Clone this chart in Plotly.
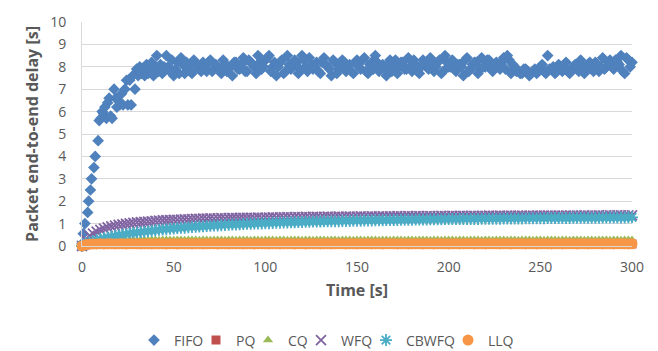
import plotly.graph_objects as go

# ---------------- data ----------------
fifo_t = [0, 0.7, 1.6, 3.1, 3.6, 4.6, 5.2, 6.5, 7.2, 8.8, 9.4, 10.4, 11.0, 11.8, 12.5, 13.3, 14.0, 14.8,
          15.6, 16.4, 17.5, 18.4, 19.0, 19.8, 20.6, 21.6, 22.4, 23.4, 24.3, 25.0, 26.0, 26.8, 27.6, 28.9,
          29.8, 30.6, 31.5, 32.4, 33.3, 34.2, 35.2, 36.1, 37.0, 38.0, 39.0, 40.0, 40.8, 41.8, 42.8, 43.8,
          44.8] + list(range(46, 301, 2)) + list(range(47, 300, 2))
fifo_v = [0.1, 0.55, 1.0, 1.5, 2.0, 2.5, 3.0, 3.5, 4.0, 4.7, 5.6, 5.7, 6.0, 5.9, 6.2, 5.7, 6.4, 6.6,
          5.8, 5.7, 7.0, 6.6, 6.2, 6.5, 6.3, 6.8, 6.3, 7.0, 7.4, 6.3, 7.4, 6.3, 7.6, 7.0,
          7.9, 7.6, 8.0, 7.7, 7.8, 7.6, 8.1, 7.7, 7.9, 8.2, 7.6, 8.0, 8.5, 7.8, 8.1, 7.7,
          8.0,
          # even seconds 46 .. 300
          8.5, 7.8, 7.6, 8.2, 8.4, 7.7, 8.0, 7.7, 8.1, 7.9,
          8.2, 7.8, 8.3, 7.9, 8.0, 7.7, 8.1, 8.0, 7.6, 8.2,
          7.9, 8.4, 7.8, 8.2, 8.0, 8.5, 7.9, 8.3, 8.5, 8.0,
          7.6, 8.2, 7.7, 8.5, 7.9, 8.3, 7.7, 8.5, 8.0, 8.4,
          7.9, 8.2, 7.7, 8.4, 8.0, 7.6, 8.2, 7.9, 8.3, 7.8,
          8.1, 7.7, 8.3, 7.9, 8.4, 7.7, 8.2, 8.5, 7.8, 8.1,
          7.6, 8.3, 8.0, 7.7, 8.2, 7.9, 8.4, 7.8, 8.1, 7.7,
          8.3, 8.0, 8.4, 7.8, 8.2, 7.7, 8.5, 8.0, 8.3, 7.8,
          8.1, 7.6, 8.4, 7.9, 8.2, 7.7, 8.4, 8.0, 8.3, 7.8,
          8.2, 7.9, 8.4, 8.5, 7.7, 8.0, 7.8, 7.7, 7.9, 7.6,
          7.8, 7.7, 8.0, 7.8, 8.5, 7.9, 7.7, 8.1, 7.8, 8.2,
          7.7, 8.0, 7.9, 8.3, 7.7, 8.1, 7.9, 8.2, 7.8, 8.4,
          8.0, 8.3, 7.9, 8.2, 8.5, 7.7, 8.3, 8.2,
          # odd seconds 47 .. 299
          8.0, 8.3, 7.9, 7.7, 8.1, 8.2, 7.8, 8.3, 8.0, 7.8,
          8.0, 8.2, 7.8, 8.1, 7.9, 8.3, 7.8, 8.0, 8.2, 7.9,
          8.1, 7.8, 8.3, 8.1, 7.7, 8.2, 8.0, 8.4, 7.8, 8.2,
          8.0, 8.3, 7.8, 8.1, 8.0, 8.2, 7.9, 8.3, 7.8, 8.1,
          8.0, 7.8, 8.2, 8.1, 7.9, 8.3, 7.7, 8.0, 8.2, 8.0,
          7.8, 8.2, 8.0, 8.3, 7.8, 8.1, 7.9, 8.2, 8.0, 7.9,
          8.1, 7.8, 8.3, 8.0, 8.2, 7.9, 8.0, 8.3, 7.8, 8.0,
          8.2, 7.9, 8.1, 8.0, 8.3, 7.8, 8.2, 8.0, 7.9, 8.1,
          8.0, 8.3, 7.8, 8.1, 8.2, 7.9, 8.0, 8.3, 7.9, 8.1,
          8.0, 8.2, 7.9, 8.3, 8.1, 7.8, 7.7, 7.9, 7.8, 7.7,
          7.9, 7.8, 8.1, 7.7, 7.9, 8.0, 7.8, 7.9, 8.0, 7.8,
          7.9, 8.1, 7.8, 8.0, 7.9, 8.2, 7.8, 8.1, 8.0, 7.9,
          8.2, 8.0, 8.3, 8.1, 7.8, 8.4, 8.0]

t2 = list(range(0, 301, 2))  # sampling instants of the queueing series

pq_v = [0.00, 0.05, 0.07, 0.08, 0.08, 0.09, 0.08, 0.09, 0.08, 0.09,
        0.09, 0.08, 0.09, 0.09, 0.08, 0.09, 0.09, 0.08, 0.09, 0.09,
        0.08, 0.09, 0.09, 0.08, 0.09, 0.09, 0.09, 0.08, 0.09, 0.09,
        0.09, 0.08, 0.09, 0.09, 0.08, 0.09, 0.09, 0.09, 0.08, 0.09,
        0.09, 0.09, 0.08, 0.09, 0.09, 0.08, 0.09, 0.09, 0.09, 0.08,
        0.09, 0.09, 0.08, 0.09, 0.09, 0.09, 0.08, 0.09, 0.09, 0.08,
        0.09, 0.09, 0.09, 0.08, 0.09, 0.09, 0.08, 0.09, 0.09, 0.09,
        0.08, 0.09, 0.09, 0.08, 0.09, 0.09, 0.09, 0.08, 0.09, 0.09,
        0.08, 0.09, 0.09, 0.09, 0.08, 0.09, 0.09, 0.08, 0.09, 0.09,
        0.09, 0.08, 0.09, 0.09, 0.08, 0.09, 0.09, 0.09, 0.08, 0.09,
        0.09, 0.08, 0.09, 0.09, 0.09, 0.08, 0.09, 0.09, 0.08, 0.09,
        0.09, 0.09, 0.08, 0.09, 0.09, 0.08, 0.09, 0.09, 0.09, 0.08,
        0.09, 0.09, 0.08, 0.09, 0.09, 0.09, 0.08, 0.09, 0.09, 0.08,
        0.09, 0.09, 0.09, 0.08, 0.09, 0.09, 0.08, 0.09, 0.09, 0.09,
        0.08, 0.09, 0.09, 0.08, 0.09, 0.09, 0.09, 0.08, 0.09, 0.09,
        0.09]

cq_v = [0.00, 0.12, 0.18, 0.21, 0.23, 0.24, 0.25, 0.25, 0.26, 0.26,
        0.26, 0.27, 0.26, 0.27, 0.27, 0.26, 0.27, 0.27, 0.26, 0.27,
        0.27, 0.26, 0.27, 0.27, 0.27, 0.26, 0.27, 0.27, 0.26, 0.27,
        0.27, 0.27, 0.26, 0.27, 0.27, 0.26, 0.27, 0.27, 0.27, 0.26,
        0.27, 0.27, 0.26, 0.27, 0.27, 0.27, 0.26, 0.27, 0.27, 0.26,
        0.27, 0.27, 0.27, 0.26, 0.27, 0.27, 0.26, 0.27, 0.27, 0.27,
        0.26, 0.27, 0.27, 0.26, 0.27, 0.27, 0.27, 0.26, 0.27, 0.27,
        0.26, 0.27, 0.27, 0.27, 0.26, 0.27, 0.27, 0.26, 0.27, 0.27,
        0.27, 0.26, 0.27, 0.27, 0.26, 0.27, 0.27, 0.27, 0.26, 0.27,
        0.27, 0.26, 0.27, 0.27, 0.27, 0.26, 0.27, 0.27, 0.26, 0.27,
        0.27, 0.27, 0.26, 0.27, 0.27, 0.26, 0.27, 0.27, 0.27, 0.26,
        0.27, 0.27, 0.26, 0.27, 0.27, 0.27, 0.26, 0.27, 0.27, 0.26,
        0.27, 0.27, 0.27, 0.26, 0.27, 0.27, 0.26, 0.27, 0.27, 0.27,
        0.26, 0.27, 0.27, 0.26, 0.27, 0.27, 0.27, 0.26, 0.27, 0.27,
        0.26, 0.27, 0.27, 0.27, 0.26, 0.27, 0.27, 0.26, 0.27, 0.27,
        0.27]

wfq_v = [0.00, 0.30, 0.45, 0.55, 0.64, 0.72, 0.78, 0.83, 0.88, 0.91,
         0.94, 0.97, 0.99, 1.01, 1.03, 1.05, 1.06, 1.08, 1.09, 1.10,
         1.12, 1.13, 1.14, 1.15, 1.16, 1.17, 1.17, 1.18, 1.19, 1.19,
         1.20, 1.21, 1.21, 1.22, 1.22, 1.23, 1.22, 1.23, 1.24, 1.23,
         1.24, 1.25, 1.24, 1.25, 1.26, 1.25, 1.26, 1.26, 1.27, 1.26,
         1.27, 1.27, 1.28, 1.27, 1.28, 1.28, 1.29, 1.28, 1.29, 1.29,
         1.29, 1.30, 1.29, 1.30, 1.30, 1.29, 1.30, 1.31, 1.30, 1.30,
         1.31, 1.30, 1.31, 1.31, 1.30, 1.31, 1.32, 1.31, 1.31, 1.32,
         1.31, 1.32, 1.32, 1.31, 1.32, 1.32, 1.33, 1.32, 1.32, 1.33,
         1.32, 1.33, 1.33, 1.32, 1.33, 1.33, 1.32, 1.33, 1.34, 1.33,
         1.33, 1.34, 1.33, 1.34, 1.34, 1.33, 1.34, 1.34, 1.33, 1.34,
         1.34, 1.35, 1.34, 1.34, 1.35, 1.34, 1.35, 1.35, 1.34, 1.35,
         1.35, 1.34, 1.35, 1.35, 1.36, 1.35, 1.35, 1.36, 1.35, 1.35,
         1.36, 1.35, 1.36, 1.36, 1.35, 1.36, 1.36, 1.37, 1.36, 1.36,
         1.36, 1.37, 1.36, 1.37, 1.37, 1.36, 1.37, 1.37, 1.36, 1.37,
         1.37]

cbwfq_v = [0.00, 0.10, 0.17, 0.22, 0.27, 0.31, 0.35, 0.38, 0.42, 0.45,
           0.48, 0.51, 0.53, 0.56, 0.58, 0.60, 0.62, 0.64, 0.66, 0.68,
           0.70, 0.72, 0.74, 0.75, 0.77, 0.78, 0.80, 0.81, 0.82, 0.84,
           0.85, 0.86, 0.87, 0.88, 0.89, 0.90, 0.91, 0.92, 0.93, 0.94,
           0.95, 0.96, 0.96, 0.97, 0.98, 0.99, 0.99, 1.00, 1.01, 1.01,
           1.02, 1.02, 1.03, 1.04, 1.04, 1.05, 1.05, 1.06, 1.06, 1.07,
           1.07, 1.08, 1.08, 1.09, 1.09, 1.09, 1.10, 1.10, 1.11, 1.11,
           1.11, 1.12, 1.12, 1.12, 1.13, 1.13, 1.13, 1.14, 1.14, 1.14,
           1.15, 1.15, 1.15, 1.16, 1.16, 1.16, 1.16, 1.17, 1.17, 1.17,
           1.17, 1.18, 1.18, 1.18, 1.18, 1.19, 1.19, 1.19, 1.19, 1.20,
           1.20, 1.20, 1.20, 1.20, 1.21, 1.21, 1.21, 1.21, 1.21, 1.22,
           1.22, 1.22, 1.22, 1.22, 1.22, 1.23, 1.23, 1.23, 1.23, 1.23,
           1.23, 1.24, 1.24, 1.24, 1.24, 1.24, 1.24, 1.25, 1.25, 1.25,
           1.25, 1.25, 1.25, 1.25, 1.26, 1.26, 1.26, 1.26, 1.26, 1.26,
           1.26, 1.26, 1.27, 1.27, 1.27, 1.27, 1.27, 1.27, 1.27, 1.28,
           1.28]

llq_v = [0.00, 0.06, 0.08, 0.09, 0.09, 0.10, 0.09, 0.10, 0.10, 0.09,
         0.10, 0.10, 0.09, 0.10, 0.10, 0.10, 0.09, 0.10, 0.10, 0.09,
         0.10, 0.10, 0.10, 0.09, 0.10, 0.10, 0.09, 0.10, 0.10, 0.10,
         0.09, 0.10, 0.10, 0.09, 0.10, 0.10, 0.10, 0.09, 0.10, 0.10,
         0.09, 0.10, 0.10, 0.10, 0.09, 0.10, 0.10, 0.09, 0.10, 0.10,
         0.10, 0.09, 0.10, 0.10, 0.09, 0.10, 0.10, 0.10, 0.09, 0.10,
         0.10, 0.09, 0.10, 0.10, 0.10, 0.09, 0.10, 0.10, 0.09, 0.10,
         0.10, 0.10, 0.09, 0.10, 0.10, 0.09, 0.10, 0.10, 0.10, 0.09,
         0.10, 0.10, 0.09, 0.10, 0.10, 0.10, 0.09, 0.10, 0.10, 0.09,
         0.10, 0.10, 0.10, 0.09, 0.10, 0.10, 0.09, 0.10, 0.10, 0.10,
         0.09, 0.10, 0.10, 0.09, 0.10, 0.10, 0.10, 0.09, 0.10, 0.10,
         0.09, 0.10, 0.10, 0.10, 0.09, 0.10, 0.10, 0.09, 0.10, 0.10,
         0.10, 0.09, 0.10, 0.10, 0.09, 0.10, 0.10, 0.10, 0.09, 0.10,
         0.10, 0.09, 0.10, 0.10, 0.10, 0.09, 0.10, 0.10, 0.09, 0.10,
         0.10, 0.10, 0.09, 0.10, 0.10, 0.09, 0.10, 0.10, 0.10, 0.09,
         0.10]

x_ticks = [0, 50, 100, 150, 200, 250, 300]
y_ticks = [0, 1, 2, 3, 4, 5, 6, 7, 8, 9, 10]

# ---------------- styling ----------------
FONT = "Open Sans"
GREY = "#595959"

series = [
    ("FIFO", fifo_t, fifo_v, dict(symbol="diamond", size=9, color="#4f81bd"), 17),
    ("PQ", t2, pq_v, dict(symbol="square", size=9, color="#c0504d"), 7),
    ("CQ", t2, cq_v, dict(symbol="triangle-up", size=9, color="#9bbb59"), 8),
    ("WFQ", t2, wfq_v, dict(symbol="x-thin-open", size=10, color="#8064a2",
                            line=dict(width=1.8, color="#8064a2")), 20),
    ("CBWFQ", t2, cbwfq_v, dict(symbol="asterisk-open", size=10, color="#4bacc6",
                                line=dict(width=1.8, color="#4bacc6")), 37),
    ("LLQ", t2, llq_v, dict(symbol="circle", size=11, color="#f79646"), 30),
]

fig = go.Figure()
for name, xs, ys, mk, lw in series:
    fig.add_trace(go.Scatter(x=xs, y=ys, mode="markers", name=name,
                             marker=mk, cliponaxis=False, legendwidth=lw))

fig.update_layout(
    width=658, height=351,
    margin=dict(l=82, r=26, t=15, b=105),
    paper_bgcolor="white", plot_bgcolor="white",
    font=dict(family=FONT, size=14, color=GREY),
    showlegend=True,
    legend=dict(orientation="h", xref="container", yref="container",
                x=(154 - 20) / 658, xanchor="left", y=0.03, yanchor="middle",
                font=dict(family=FONT, size=14, color=GREY),
                itemwidth=30, tracegroupgap=0),
    xaxis=dict(range=[0, 300], tickvals=x_ticks, showgrid=False, zeroline=False,
               showline=True, linecolor="#d9d9d9", ticks="", ticklabelstandoff=8,
               title=dict(text="<b>Time [s]</b>", standoff=10,
                          font=dict(family=FONT, size=16, color=GREY))),
    yaxis=dict(range=[0, 10], tickvals=y_ticks, showgrid=True, gridcolor="#d9d9d9",
               gridwidth=1, zeroline=False, showline=True, linecolor="#d9d9d9",
               ticks="", ticklabelstandoff=12,
               title=dict(text="<b>Packet end-to-end delay [s]</b>", standoff=7,
                          font=dict(family=FONT, size=16, color=GREY))),
)

fig.write_html("out.html")
